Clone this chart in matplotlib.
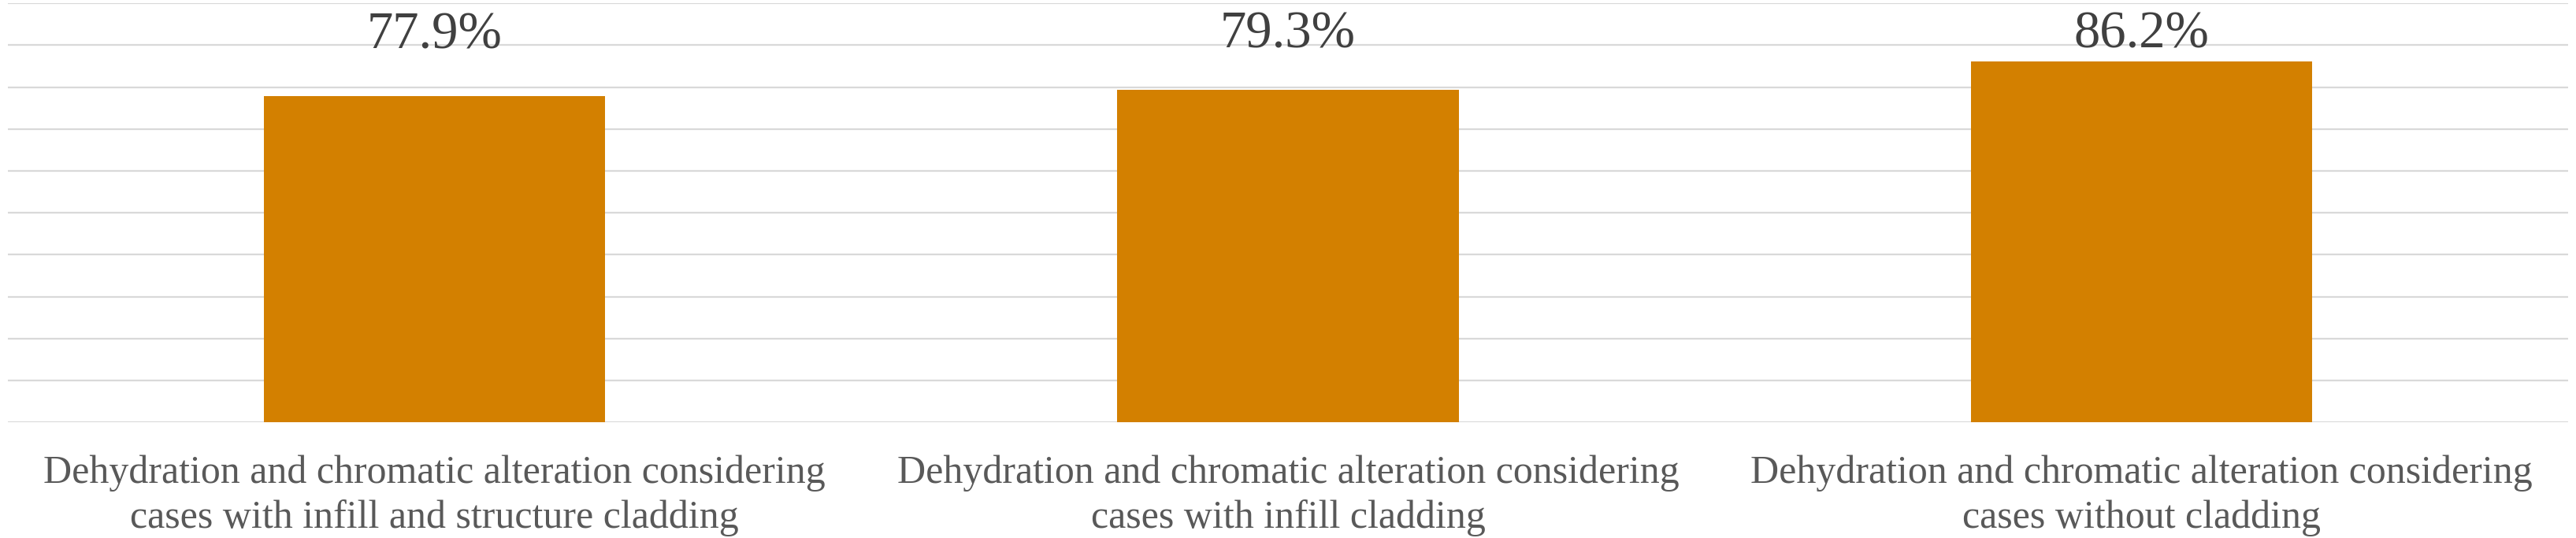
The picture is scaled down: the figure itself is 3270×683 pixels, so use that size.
import matplotlib
matplotlib.use("Agg")
import matplotlib.pyplot as plt

categories = [
    "Dehydration and chromatic alteration considering\ncases with infill and structure cladding",
    "Dehydration and chromatic alteration considering\ncases with infill cladding",
    "Dehydration and chromatic alteration considering\ncases without cladding",
]
values = [0.779, 0.793, 0.862]
value_labels = ["77.9%", "79.3%", "86.2%"]

plt.rcParams['font.family'] = ['Liberation Serif', 'DejaVu Serif']

fig = plt.figure(figsize=(32.7, 6.83), dpi=100)
ax = fig.add_axes([0.003, 0.215, 0.994, 0.779])

x = list(range(len(categories)))
bars = ax.bar(x, values, width=0.4, color='#D38000', zorder=3)

ax.set_xlim(-0.5, 2.5)
ax.set_ylim(0, 1.0)
ax.set_yticks([i / 10 for i in range(11)])
ax.yaxis.grid(True, color='#D9D9D9', linewidth=1.6, zorder=0)
ax.set_axisbelow(True)
ax.tick_params(axis='y', left=False, labelleft=False)
ax.tick_params(axis='x', bottom=False, pad=26)
for s in ax.spines.values():
    s.set_visible(False)

ax.set_xticks(x)
ax.set_xticklabels(categories, fontsize=36, color='#595959', linespacing=1.3)

for xi, v, lab in zip(x, values, value_labels):
    ypos = min(v + 0.145, 0.925)
    ax.text(xi, ypos, lab, ha='center', va='center', fontsize=48, color='#404040')

fig.savefig('out.png', dpi=100)
